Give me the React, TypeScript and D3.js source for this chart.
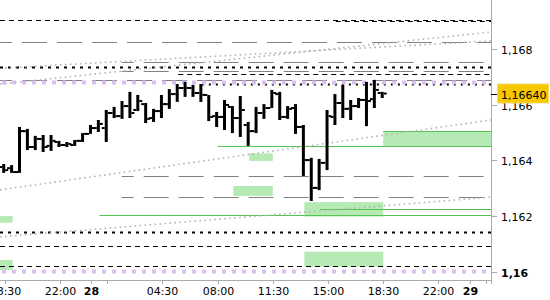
import React from "react";
import * as d3 from "d3";

const parseT = d3.timeParse("%d %H:%M");
const T = (s: string) => parseT(s) as Date;

const domainStart = "27 18:12";
const domainEnd = "29 01:20";
const firstBar = "27 18:30";

// OHLC, 30-minute bars
const opens = [1.16376, 1.16372, 1.16358, 1.16505, 1.16448, 1.16477, 1.16452, 1.16466, 1.16455, 1.16455,
  1.16470, 1.16495, 1.16516, 1.16516, 1.16570, 1.16559, 1.16595, 1.16581, 1.16602, 1.16552,
  1.16577, 1.16602, 1.16638, 1.16660, 1.16660, 1.16642, 1.16635, 1.16559, 1.16556, 1.16592,
  1.16552, 1.16527, 1.16505, 1.16570, 1.16588, 1.16638, 1.16556, 1.16588, 1.16520, 1.16401,
  1.16301, 1.16391, 1.16556, 1.16606, 1.16585, 1.16595, 1.16617, 1.16620, 1.16642];
const highs = [1.16387, 1.16383, 1.16520, 1.16513, 1.16488, 1.16491, 1.16491, 1.16470, 1.16466, 1.16473,
  1.16498, 1.16527, 1.16545, 1.16581, 1.16592, 1.16613, 1.16646, 1.16635, 1.16606, 1.16585,
  1.16635, 1.16656, 1.16674, 1.16682, 1.16671, 1.16674, 1.16635, 1.16574, 1.16617, 1.16595,
  1.16631, 1.16538, 1.16592, 1.16602, 1.16653, 1.16646, 1.16595, 1.16602, 1.16527, 1.16409,
  1.16405, 1.16581, 1.16638, 1.16671, 1.16617, 1.16624, 1.16682, 1.16689, 1.16646];
const lows = [1.16355, 1.16355, 1.16355, 1.16437, 1.16437, 1.16430, 1.16434, 1.16448, 1.16448, 1.16452,
  1.16466, 1.16495, 1.16502, 1.16466, 1.16552, 1.16549, 1.16552, 1.16577, 1.16534, 1.16538,
  1.16552, 1.16585, 1.16610, 1.16628, 1.16628, 1.16610, 1.16541, 1.16520, 1.16509, 1.16498,
  1.16484, 1.16452, 1.16498, 1.16549, 1.16588, 1.16545, 1.16549, 1.16495, 1.16344, 1.16254,
  1.16293, 1.16365, 1.16527, 1.16552, 1.16545, 1.16588, 1.16523, 1.16588, 1.16624];
const closes = [1.16365, 1.16358, 1.16505, 1.16448, 1.16477, 1.16448, 1.16470, 1.16455, 1.16459, 1.16470,
  1.16495, 1.16516, 1.16531, 1.16570, 1.16559, 1.16595, 1.16570, 1.16613, 1.16549, 1.16577,
  1.16602, 1.16638, 1.16660, 1.16660, 1.16642, 1.16635, 1.16556, 1.16556, 1.16599, 1.16552,
  1.16581, 1.16505, 1.16570, 1.16588, 1.16642, 1.16556, 1.16585, 1.16520, 1.16401, 1.16301,
  1.16391, 1.16559, 1.16606, 1.16585, 1.16595, 1.16617, 1.16613, 1.16653, 1.16640];

const xTickTimes = ["27 18:30", "27 22:00", "28 00:00", "28 04:30", "28 08:00", "28 11:30", "28 15:00", "28 18:30", "28 22:00", "29 00:00"];
const xTickLabels = ["18:30", "22:00", "28", "04:30", "08:00", "11:30", "15:00", "18:30", "22:00", "29"];
const xMinorTicks = ["28 01:00", "29 01:00"];

const yTickValues = [1.160, 1.162, 1.164, 1.166, 1.168];
const yTickLabels = ["1,16", "1,162", "1,164", "1,166", "1,168"];

const lastPrice = 1.1664;
const lastPriceLabel = "1,16640";

// horizontal levels (price, start time or null = from left edge)
const grayDashLevels = [
  { price: 1.16824, from: null },
  { price: 1.16753, from: "28 01:55" },
  { price: 1.16721, from: "28 01:55" },
  { price: 1.16688, from: null },
  { price: 1.16342, from: "28 01:55" },
  { price: 1.16269, from: "28 01:55" },
];
const blackDashLevels = [
  { price: 1.16904, from: null },
  { price: 1.16899, from: "28 15:30" },
  { price: 1.16710, from: "28 05:30" },
  { price: 1.16092, from: null },
  { price: 1.16021, from: null },
];
const blackDotLevels = [
  { price: 1.16736, from: null },
  { price: 1.16144, from: null },
];
const smallDotLevels = [{ price: 1.16676, from: "28 07:00" }];
const lilacLevels = [
  { price: 1.16683, from: null },
  { price: 1.16004, from: null },
];
const greenLevels = [
  { price: 1.16450, from: "28 08:00" },
  { price: 1.16504, from: "28 18:30" },
  { price: 1.16224, from: "28 14:30" },
  { price: 1.16203, from: "28 00:30" },
];
const zones = [
  { from: "28 18:30", to: null, top: 1.16504, bottom: 1.16450 },
  { from: "28 10:00", to: "28 11:30", top: 1.16425, bottom: 1.16398 },
  { from: "28 09:00", to: "28 11:30", top: 1.16308, bottom: 1.16272 },
  { from: "28 13:30", to: "28 18:30", top: 1.16250, bottom: 1.16198 },
  { from: "28 13:30", to: "28 18:30", top: 1.16072, bottom: 1.16018 },
  { from: null, to: "27 19:00", top: 1.16200, bottom: 1.16176 },
  { from: null, to: "27 19:00", top: 1.16042, bottom: 1.16006 },
];
const trendLines = [
  { from: "27 18:31", p1: 1.16732, to: "29 01:20", p2: 1.16829 },
  { from: "27 18:12", p1: 1.16674, to: "29 01:20", p2: 1.16861 },
  { from: "27 18:12", p1: 1.16294, to: "29 01:20", p2: 1.16545 },
  { from: "27 18:12", p1: 1.16125, to: "29 01:20", p2: 1.16268 },
];

const W = 550;
const H = 300;
const PR = 491; // plot right edge
const PB = 280; // plot bottom (x axis line)
const FONT = "'DejaVu Sans', Verdana, sans-serif";

export default function App() {
  const x = d3.scaleTime().domain([T(domainStart), T(domainEnd)]).range([0, PR]);
  const y = d3.scaleLinear().domain([1.16, 1.168]).range([271.7, 49]);
  const barTimes = d3.timeMinute.every(30)!.range(T(firstBar), T("29 01:00")).slice(0, opens.length);
  const xs = (f: string | null) => (f ? x(T(f)) : 0);

  const levelLines = (
    arr: { price: number; from: string | null }[],
    props: React.SVGProps<SVGLineElement>,
    key: string
  ) =>
    arr.map((l, i) => {
      const yy = Math.round(y(l.price)) + 0.5;
      return <line key={key + i} x1={xs(l.from)} x2={PR} y1={yy} y2={yy} {...props} />;
    });

  return (
    <svg width={W} height={H} style={{ position: "absolute", left: 0, top: 0, background: "#fff" }}>
      <defs>
        <clipPath id="plot">
          <rect x={0} y={0} width={PR} height={PB} />
        </clipPath>
      </defs>
      <g clipPath="url(#plot)">
        {zones.map((z, i) => (
          <rect
            key={"z" + i}
            x={xs(z.from)}
            width={(z.to ? x(T(z.to)) : PR) - xs(z.from)}
            y={y(z.top)}
            height={y(z.bottom) - y(z.top)}
            fill="#b5eab5"
          />
        ))}
        {levelLines(grayDashLevels, { stroke: "#808080", strokeWidth: 1, strokeDasharray: "25 10", strokeDashoffset: 13 }, "g")}
        {levelLines(blackDashLevels, { stroke: "#000", strokeWidth: 1, strokeDasharray: "5 4" }, "b")}
        {levelLines(blackDotLevels, { stroke: "#000", strokeWidth: 2, strokeDasharray: "3 5" }, "d")}
        {levelLines(smallDotLevels, { stroke: "#000", strokeWidth: 2, strokeDasharray: "2 5" }, "s")}
        {levelLines(lilacLevels, { stroke: "#dcc0f2", strokeWidth: 4, strokeDasharray: "4 6", strokeDashoffset: 8 }, "l")}
        {levelLines(greenLevels, { stroke: "#55c455", strokeWidth: 1 }, "gr")}
        {trendLines.map((t, i) => (
          <line
            key={"t" + i}
            x1={x(T(t.from))}
            y1={y(t.p1)}
            x2={x(T(t.to))}
            y2={y(t.p2)}
            stroke="#b4b4b4"
            strokeWidth={1.6}
            strokeDasharray="1.6 3.4"
          />
        ))}
        {barTimes.map((bt, i) => {
          const cx = x(bt) - 1;
          return (
            <g key={"bar" + i} stroke="#000">
              <line x1={cx} x2={cx} y1={y(highs[i])} y2={y(lows[i])} strokeWidth={3} />
              <line x1={cx - 4.5} x2={cx - 1.5} y1={y(opens[i])} y2={y(opens[i])} strokeWidth={2} />
              <line x1={cx + 1.5} x2={cx + 4.5} y1={y(closes[i])} y2={y(closes[i])} strokeWidth={2} />
            </g>
          );
        })}
      </g>

      {/* x axis */}
      <line x1={0} x2={PR} y1={PB + 0.5} y2={PB + 0.5} stroke="#aaa" strokeWidth={1} />
      {xTickTimes.map((t, i) => {
        const xx = Math.round(x(T(t))) + 0.5;
        const isDay = !xTickLabels[i].includes(":");
        return (
          <g key={"xt" + i}>
            <line x1={xx} x2={xx} y1={PB} y2={PB + 4} stroke="#aaa" />
            <text
              x={xx}
              y={295}
              textAnchor="middle"
              fontFamily={FONT}
              fontSize={11}
              fontWeight={isDay ? "bold" : "normal"}
              fill="#000"
            >
              {xTickLabels[i]}
            </text>
          </g>
        );
      })}
      {xMinorTicks.map((t, i) => {
        const xx = Math.round(x(T(t))) + 0.5;
        return <line key={"xm" + i} x1={xx} x2={xx} y1={PB} y2={PB + 4} stroke="#aaa" />;
      })}

      {/* y axis */}
      <line x1={PR + 0.5} x2={PR + 0.5} y1={0} y2={PB + 4} stroke="#aaa" strokeWidth={1} />
      {yTickValues.map((v, i) => {
        const yy = Math.round(y(v)) + 0.5;
        const isRound = yTickLabels[i].length <= 4;
        return (
          <g key={"yt" + i}>
            <line x1={PR} x2={PR + 6} y1={yy} y2={yy} stroke="#aaa" />
            <text
              x={501}
              y={yy + 4}
              fontFamily={FONT}
              fontSize={11}
              fontWeight={isRound ? "bold" : "normal"}
              fill="#000"
            >
              {yTickLabels[i]}
            </text>
          </g>
        );
      })}

      {/* current price marker */}
      {(() => {
        const yy = Math.round(y(lastPrice)) + 0.5;
        return (
          <g>
            <line x1={PR} x2={PR + 6} y1={yy} y2={yy} stroke="#000" strokeWidth={1} />
            <rect x={497.5} y={yy - 10.5} width={51} height={19} fill="#f7c800" stroke="#f2dc70" strokeWidth={1} />
            <text x={501} y={yy + 4} fontFamily={FONT} fontSize={11} fill="#000">
              {lastPriceLabel}
            </text>
          </g>
        );
      })()}
    </svg>
  );
}
